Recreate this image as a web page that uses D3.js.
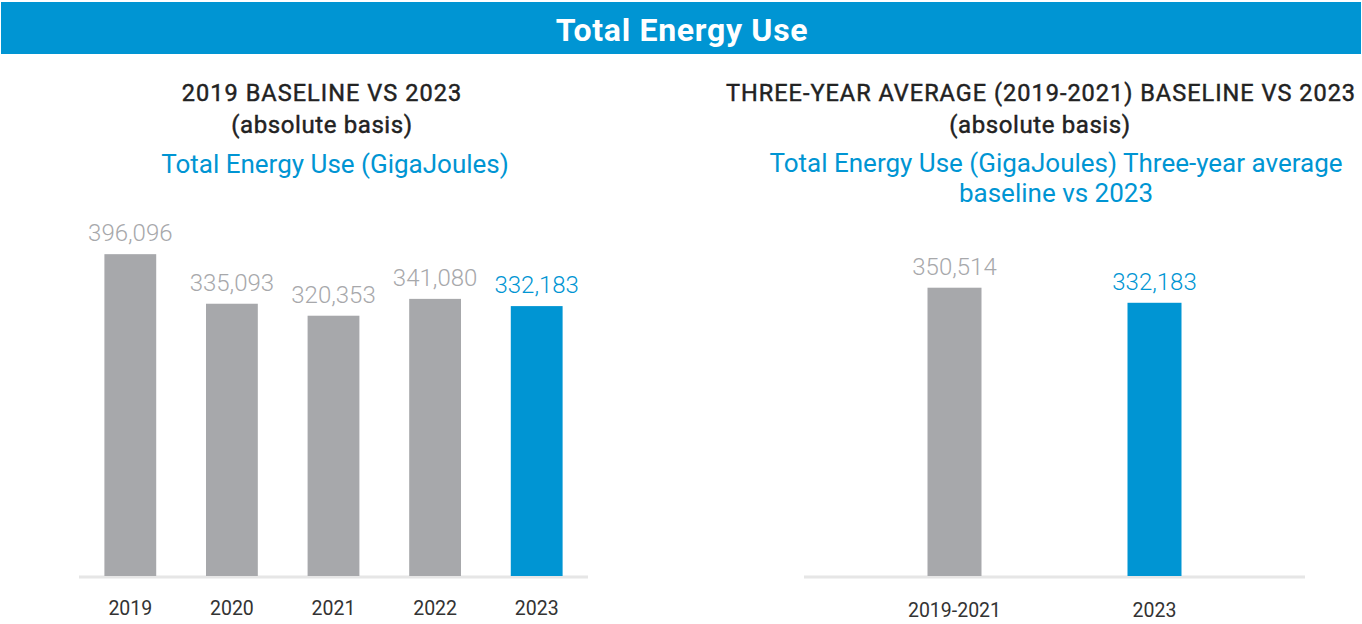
<!DOCTYPE html>
<html>
<head>
<meta charset="utf-8">
<script src="https://cdn.jsdelivr.net/npm/d3@7"></script>
<style>
  body { margin: 0; background: #fff; }
  text { font-family: "Roboto", "Open Sans", sans-serif; }
</style>
</head>
<body>
<svg id="chart" width="1362" height="624"></svg>
<script>
// Total energy use, GigaJoules
const yearCats = ["2019", "2020", "2021", "2022", "2023"];
const yearValues = [396096, 335093, 320353, 341080, 332183];
const avgCats = ["2019-2021", "2023"];
const avgValues = [350514, 332183];

const svg = d3.select("#chart");
const blue = "#0095d3";
const grey = "#a7a8ab";
const fmt = d3.format(",");

// header band
svg.append("rect")
  .attr("x", 1).attr("y", 2)
  .attr("width", 1360).attr("height", 52)
  .attr("fill", blue);
svg.append("text")
  .attr("x", 682).attr("y", 41)
  .attr("text-anchor", "middle")
  .attr("fill", "#fff")
  .attr("font-size", 32)
  .attr("font-weight", 700)
  .attr("letter-spacing", 0.7)
  .text("Total Energy Use");

function drawPanel(opts) {
  const g = svg.append("g");
  const base = 576;

  const x = d3.scaleBand()
    .domain(opts.cats)
    .range(opts.xRange)
    .paddingInner(opts.padIn)
    .paddingOuter(opts.padOut);
  const y = d3.scaleLinear()
    .domain([0, 400000])
    .range([base, base - opts.pxPer400k]);

  // titles (dark ones get a thin stroke to look medium weight)
  opts.titles.forEach((t) => {
    g.append("text")
      .attr("x", t.x).attr("y", t.y)
      .attr("text-anchor", "middle")
      .attr("fill", t.color)
      .attr("stroke", t.heavy ? t.color : "none")
      .attr("stroke-width", t.heavy ? 0.45 : 0)
      .attr("font-size", t.size)
      .attr("letter-spacing", t.ls || 0)
      .text(t.text);
  });

  // baseline
  g.append("line")
    .attr("x1", opts.xRange[0]).attr("x2", opts.xRange[1])
    .attr("y1", base + 1).attr("y2", base + 1)
    .attr("stroke", "#e6e6e6")
    .attr("stroke-width", 3);

  const data = opts.cats.map((c, i) => ({ cat: c, value: opts.values[i], last: i === opts.cats.length - 1 }));

  g.selectAll("rect.bar")
    .data(data)
    .join("rect")
    .attr("class", "bar")
    .attr("x", (d) => x(d.cat))
    .attr("y", (d) => y(d.value))
    .attr("width", x.bandwidth())
    .attr("height", (d) => base - y(d.value))
    .attr("fill", (d) => (d.last ? blue : grey));

  g.selectAll("text.val")
    .data(data)
    .join("text")
    .attr("class", "val")
    .attr("x", (d) => x(d.cat) + x.bandwidth() / 2)
    .attr("y", (d) => y(d.value) - 13)
    .attr("text-anchor", "middle")
    .attr("font-size", 24)
    .attr("font-weight", 300)
    .attr("fill", (d) => (d.last ? blue : grey))
    .text((d) => fmt(d.value));

  g.selectAll("text.cat")
    .data(data)
    .join("text")
    .attr("class", "cat")
    .attr("x", (d) => x(d.cat) + x.bandwidth() / 2)
    .attr("y", opts.catY)
    .attr("text-anchor", "middle")
    .attr("font-size", 19.5)
    .attr("fill", "#333")
    .text((d) => d.cat);
}

drawPanel({
  cats: yearCats,
  values: yearValues,
  xRange: [79, 588],
  padIn: 0.49,
  padOut: 0.25,
  pxPer400k: 325,
  catY: 615,
  titles: [
    { text: "2019 BASELINE VS 2023", x: 322, y: 101, size: 23.5, color: "#222", ls: 1.05, heavy: true },
    { text: "(absolute basis)", x: 322, y: 133, size: 24, color: "#222", ls: 0.6, heavy: true },
    { text: "Total Energy Use (GigaJoules)", x: 335, y: 173, size: 26, color: blue }
  ]
});

drawPanel({
  cats: avgCats,
  values: avgValues,
  xRange: [804, 1305],
  padIn: 0.73,
  padOut: 0.6175,
  pxPer400k: 329,
  catY: 617,
  titles: [
    { text: "THREE-YEAR AVERAGE (2019-2021) BASELINE VS 2023", x: 1041, y: 101, size: 23.5, color: "#222", ls: 1.0, heavy: true },
    { text: "(absolute basis)", x: 1040, y: 133, size: 24, color: "#222", ls: 0.6, heavy: true },
    { text: "Total Energy Use (GigaJoules) Three-year average", x: 1056, y: 172, size: 26, color: blue },
    { text: "baseline vs 2023", x: 1056, y: 202, size: 26, color: blue }
  ]
});
</script>
</body>
</html>
